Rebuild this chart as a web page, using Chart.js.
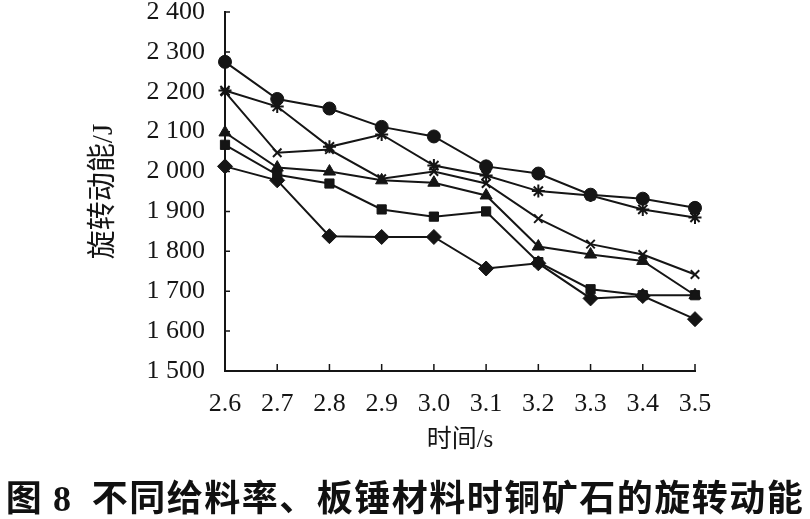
<!DOCTYPE html>
<html>
<head>
<meta charset="utf-8">
<script src="https://cdn.jsdelivr.net/npm/chart.js@4.4.1/dist/chart.umd.min.js"></script>
<style>
  html, body { margin: 0; padding: 0; background: #fff; }
  #wrap { position: relative; width: 810px; height: 519px; }
  #c { position: absolute; left: 0; top: 0; }
  #caption { position: absolute; left: 0; top: 474px; width: 810px; text-align: center;
    font-family: "Noto Sans CJK SC", sans-serif; font-weight: bold; font-size: 36px; line-height: 42px;
    letter-spacing: 1.5px; color: #111; white-space: nowrap; }
</style>
</head>
<body>
<div id="wrap">
  <canvas id="c" width="810" height="519"></canvas>
  <div id="caption">图 <span style="font-family:'Liberation Serif',serif;">8</span>&nbsp; 不同给料率、板锤材料时铜矿石的旋转动能</div>
</div>
<script>
const timeLabels = ['2.6', '2.7', '2.8', '2.9', '3.0', '3.1', '3.2', '3.3', '3.4', '3.5'];
const circleSeries   = [2275, 2182, 2158, 2112, 2088, 2013, 1995, 1942, 1932, 1909];
const asteriskSeries = [2203, 2163, 2062, 2093, 2015, 1990, 1951, 1940, 1905, 1885];
const crossSeries    = [2200, 2047, 2055, 1982, 2000, 1970, 1882, 1818, 1792, 1742];
const triangleSeries = [2098, 2010, 2000, 1978, 1972, 1940, 1812, 1792, 1776, 1690];
const squareSeries   = [2067, 1992, 1970, 1905, 1887, 1900, 1773, 1705, 1690, 1690];
const diamondSeries  = [2013, 1978, 1838, 1836, 1836, 1757, 1770, 1682, 1688, 1630];
const yMin = 1500, yMax = 2400, yStep = 100;
const xTitle = '时间/s';
const yTitle = '旋转动能/J';

const ink = '#151515';
function ds(data, style, r) {
  return {
    data, borderColor: ink, backgroundColor: ink, borderWidth: 2,
    pointStyle: style, pointRadius: r, pointHoverRadius: r,
    pointBorderColor: ink, pointBackgroundColor: ink, pointBorderWidth: (style === 'star' || style === 'crossRot') ? 2 : 1,
    tension: 0, fill: false
  };
}

const innerTicks = {
  id: 'innerTicks',
  afterDraw(chart) {
    const ctx = chart.ctx;
    const xs = chart.scales.x, ys = chart.scales.y;
    const ca = chart.chartArea;
    ctx.save();
    ctx.strokeStyle = ink;
    ctx.lineWidth = 1.5;
    ctx.beginPath();
    ys.ticks.forEach((t, i) => {
      const y = ys.getPixelForTick(i);
      ctx.moveTo(ca.left, y); ctx.lineTo(ca.left + 5, y);
    });
    xs.ticks.forEach((t, i) => {
      if (i === 0) return;
      const x = xs.getPixelForTick(i);
      ctx.moveTo(x, ca.bottom); ctx.lineTo(x, ca.bottom - 7);
    });
    ctx.stroke();
    ctx.restore();
  }
};

new Chart(document.getElementById('c'), {
  type: 'line',
  data: {
    labels: timeLabels,
    datasets: [
      ds(circleSeries, 'circle', 6.5),
      ds(asteriskSeries, 'star', 6.5),
      ds(crossSeries, 'crossRot', 6),
      ds(triangleSeries, 'triangle', 7),
      ds(squareSeries, 'rect', 6.5),
      ds(diamondSeries, 'rectRot', 7.5)
    ]
  },
  options: {
    responsive: false,
    animation: false,
    events: [],
    layout: { padding: { left: 0, right: 115, top: 12, bottom: 59 } },
    plugins: { legend: { display: false }, tooltip: { enabled: false } },
    scales: {
      x: {
        type: 'category',
        offset: false,
        grid: { display: false, drawTicks: false },
        border: { display: true, color: ink, width: 2 },
        ticks: { color: ink, padding: 18, maxRotation: 0, autoSkip: false,
          font: { family: "'Liberation Serif', serif", size: 26 } },
        title: { display: true, text: xTitle, color: ink, padding: { top: 4, bottom: 5 },
          font: { family: "'Liberation Serif', 'Noto Sans CJK SC', serif", size: 25 } },
        afterFit: s => { s.height = 89; s.paddingLeft = 0; s.paddingRight = 0; }
      },
      y: {
        min: yMin, max: yMax,
        grid: { display: false, drawTicks: false },
        border: { display: true, color: ink, width: 2 },
        ticks: { stepSize: yStep, color: ink, padding: 20,
          font: { family: "'Liberation Serif', serif", size: 26 } ,
          callback: v => { const s = String(v); return s.length > 3 ? s.slice(0, s.length - 3) + ' ' + s.slice(-3) : s; } },
        title: { display: true, text: yTitle, color: ink, padding: { top: 87, bottom: 0 },
          font: { family: "'Liberation Serif', 'Noto Sans CJK SC', serif", size: 29 } },
        afterFit: s => { s.width = 225; s.paddingTop = 0; s.paddingBottom = 0; }
      }
    }
  },
  plugins: [innerTicks]
});
</script>
</body>
</html>
